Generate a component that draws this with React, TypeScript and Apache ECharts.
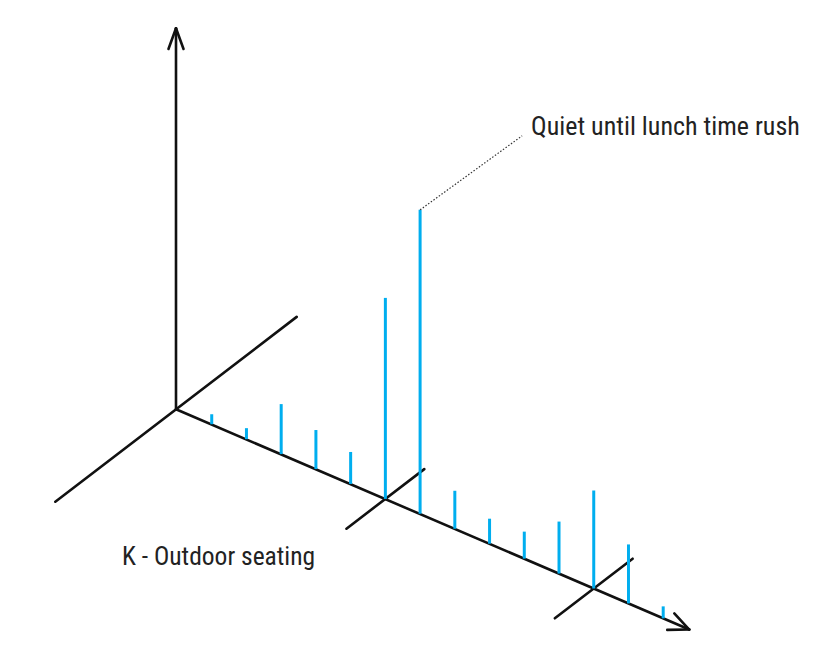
import React, { useEffect, useRef } from "react";
import * as echarts from "echarts";

// ---- data ----
const slots = [1, 2, 3, 4, 5, 6, 7, 8, 9, 10, 11, 12, 13, 14];
const barValues = [10, 11, 50, 39, 32, 201, 304, 38, 25, 27, 52, 98, 59, 12];
const crossSlots = [6, 12];
const annotationSlot = 7;
const annotationText = "Quiet until lunch time rush";
const depthLabel = "K - Outdoor seating";

// ---- style / geometry constants ----
const SLOPE = 0.43; // pixel shear of the time axis
const BLUE = "#00AEEF";
const BLACK = "#111111";
const FONT = "'Liberation Sans Narrow', 'Roboto Condensed', 'DejaVu Sans Condensed', 'Arial Narrow', sans-serif";
const Y_TOP = 381;
const X_END = 14.75;
const DEPTH_DIR = [0.794, -0.608];

export default function App() {
  const ref = useRef<HTMLDivElement>(null);
  useEffect(() => {
    if (!ref.current) return;
    const chart = echarts.init(ref.current, null, { renderer: "svg" });

    const shear = (api: any, p: number[]) => {
      const o = api.coord([0, 0]);
      return [p[0], p[1] + SLOPE * (p[0] - o[0])];
    };

    const line = (a: number[], b: number[], style: any) => ({
      type: "line",
      shape: { x1: a[0], y1: a[1], x2: b[0], y2: b[1] },
      style,
    });

    const axisStyle = { stroke: BLACK, lineWidth: 2.6, lineCap: "round" };

    const wings = (tip: number[], dir: number[], angDeg: number, len: number) => {
      const out: any[] = [];
      for (const s of [1, -1]) {
        const a = (s * angDeg * Math.PI) / 180;
        const rx = dir[0] * Math.cos(a) - dir[1] * Math.sin(a);
        const ry = dir[0] * Math.sin(a) + dir[1] * Math.cos(a);
        out.push(line(tip, [tip[0] - rx * len, tip[1] - ry * len], axisStyle));
      }
      return out;
    };

    chart.setOption({
      animation: false,
      grid: { left: 177, top: 28.3, width: 486.2, height: Y_TOP },
      xAxis: { type: "value", min: 0, max: 14, show: false },
      yAxis: { type: "value", min: 0, max: Y_TOP, show: false },
      graphic: [
        {
          type: "text",
          left: 122,
          top: 543,
          style: { text: depthLabel, font: `25.5px ${FONT}`, fill: "#222" },
        },
      ],
      series: [
        {
          type: "custom",
          clip: false,
          silent: true,
          data: [[0, 0]],
          renderItem: (_p: any, api: any) => {
            const o0 = api.coord([0, 0]);
            const o = [o0[0] - 1, o0[1]];
            const vTop = [o[0], api.coord([0, Y_TOP])[1]];
            const tEnd = shear(api, api.coord([X_END, 0]));
            const tdx = tEnd[0] - o[0];
            const tdy = tEnd[1] - o[1];
            const tl = Math.hypot(tdx, tdy);
            const children: any[] = [
              line(o, vTop, axisStyle),
              ...wings(vTop, [0, -1], 20, 22),
              line(o, tEnd, axisStyle),
              ...wings(tEnd, [tdx / tl, tdy / tl], 24, 22),
              line(
                [o[0] - DEPTH_DIR[0] * 152, o[1] - DEPTH_DIR[1] * 152],
                [o[0] + DEPTH_DIR[0] * 152, o[1] + DEPTH_DIR[1] * 152],
                axisStyle
              ),
            ];
            for (const c of crossSlots) {
              const p = shear(api, api.coord([c, 0]));
              children.push(
                line(
                  [p[0] - DEPTH_DIR[0] * 49, p[1] - DEPTH_DIR[1] * 49],
                  [p[0] + DEPTH_DIR[0] * 49, p[1] + DEPTH_DIR[1] * 49],
                  axisStyle
                )
              );
            }
            return { type: "group", children };
          },
        },
        {
          type: "custom",
          clip: false,
          silent: true,
          data: slots.map((s, i) => [s, barValues[i]]),
          renderItem: (_p: any, api: any) => {
            const i = api.value(0);
            const v = api.value(1);
            const base = shear(api, api.coord([i, 0]));
            const top = shear(api, api.coord([i, v]));
            const children: any[] = [
              line(base, top, { stroke: BLUE, lineWidth: 3 }),
            ];
            if (i === annotationSlot) {
              const end = [top[0] + 102, top[1] - 74];
              children.push(
                line(top, end, { stroke: "#333", lineWidth: 1.2, lineDash: [1.5, 1.8] })
              );
              children.push({
                type: "text",
                x: end[0] + 9,
                y: end[1] - 10,
                style: {
                  text: annotationText,
                  font: `26px ${FONT}`,
                  fill: "#222",
                  verticalAlign: "middle",
                },
              });
            }
            return { type: "group", children };
          },
        },
      ],
    });
    return () => chart.dispose();
  }, []);
  return (
    <div
      ref={ref}
      style={{ position: "fixed", left: 0, top: 0, width: 825, height: 654, background: "#fff" }}
    />
  );
}
